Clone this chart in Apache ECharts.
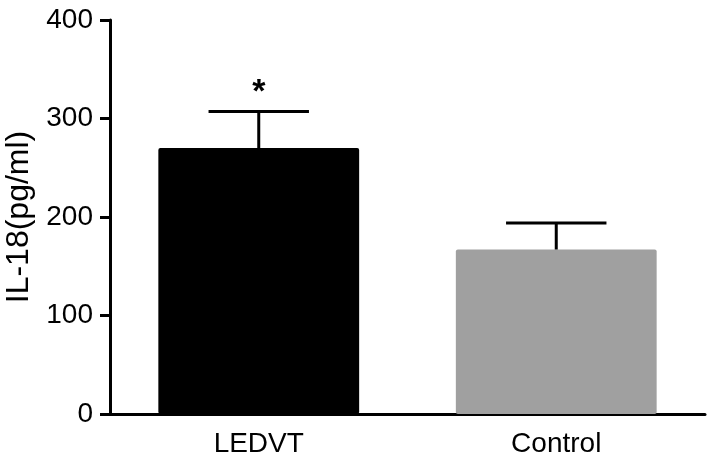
<!DOCTYPE html>
<html>
<head>
<meta charset="utf-8">
<script src="https://cdn.jsdelivr.net/npm/echarts@6/dist/echarts.min.js"></script>
<style>html,body{margin:0;padding:0;background:#fff}#c{width:709px;height:467px}</style>
</head>
<body>
<div id="c"></div>
<script>
var categories = ['LEDVT', 'Control'];
var means = [270, 167];
var errors = [37, 27];
var marks = ['*', ''];
var barColors = ['#000000', '#a0a0a0'];
var yTicks = [0, 100, 200, 300, 400];

var chart = echarts.init(document.getElementById('c'));
var font = 'Liberation Sans, Arial, sans-serif';
chart.setOption({
  animation: false,
  grid: { left: 110, right: 4, top: 20, bottom: 53, containLabel: false, outerBoundsMode: 'none' },
  xAxis: {
    type: 'category',
    data: categories,
    axisLine: { lineStyle: { color: '#000', width: 3 } },
    axisTick: { alignWithLabel: true, length: 10, lineStyle: { color: '#000', width: 3 } },
    axisLabel: { color: '#000', fontSize: 28, fontFamily: font, margin: 16 }
  },
  yAxis: {
    type: 'value',
    min: yTicks[0], max: yTicks[yTicks.length - 1], interval: 100,
    name: 'IL-18(pg/ml)',
    nameLocation: 'middle',
    nameGap: 75,
    nameTextStyle: { color: '#000', fontSize: 32, fontFamily: font },
    axisLine: { show: true, lineStyle: { color: '#000', width: 3 } },
    axisTick: { show: true, length: 10, lineStyle: { color: '#000', width: 3 } },
    axisLabel: { color: '#000', fontSize: 28, fontFamily: font, margin: 17 },
    splitLine: { show: false }
  },
  series: [
    {
      type: 'bar',
      barWidth: '67.5%',
      data: means.map(function (v, i) { return { value: v, itemStyle: { color: barColors[i], borderRadius: 2 } }; }),
      z: 2
    },
    {
      type: 'custom',
      z: 3,
      data: means.map(function (v, i) { return [i, v, errors[i], marks[i]]; }),
      renderItem: function (params, api) {
        var x = api.value(0);
        var top = api.coord([x, api.value(1) + api.value(2)]);
        var base = api.coord([x, api.value(1)]);
        var bw = api.size([1, 0])[0] * 0.675;
        var half = bw / 4;
        var children = [
          { type: 'line', shape: { x1: top[0], y1: top[1], x2: base[0], y2: base[1] }, style: { stroke: '#000', lineWidth: 3 } },
          { type: 'line', shape: { x1: top[0] - half, y1: top[1], x2: top[0] + half, y2: top[1] }, style: { stroke: '#000', lineWidth: 3 } }
        ];
        var m = marks[params.dataIndex];
        if (m) {
          children.push({ type: 'text', style: { text: m, x: top[0], y: top[1] - 2, align: 'center', verticalAlign: 'bottom', fontSize: 34, fontWeight: 'bold', fontFamily: font, fill: '#000' } });
        }
        return { type: 'group', children: children };
      }
    }
  ]
});
</script>
</body>
</html>
